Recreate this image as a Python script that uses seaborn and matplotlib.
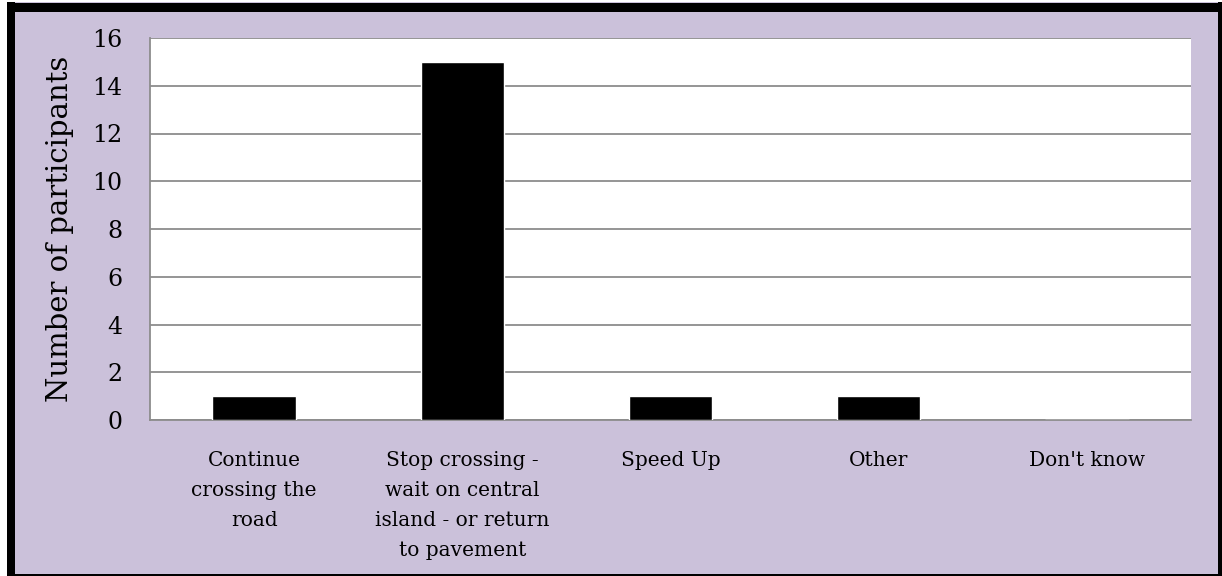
import matplotlib
matplotlib.use("Agg")
import matplotlib.pyplot as plt
import seaborn as sns
import pandas as pd
from matplotlib.lines import Line2D
from matplotlib.patches import Rectangle

categories = [
    "Continue\ncrossing the\nroad",
    "Stop crossing -\nwait on central\nisland - or return\nto pavement",
    "Speed Up",
    "Other",
    "Don't know",
]
counts = [1, 15, 1, 1, 0]
y_ticks = [0, 2, 4, 6, 8, 10, 12, 14, 16]

df = pd.DataFrame({"Response": categories, "Participants": counts})

sns.set_style("white")
plt.rcParams["font.family"] = ["DejaVu Serif"]
plt.rcParams["text.color"] = "black"
plt.rcParams["xtick.color"] = "black"
plt.rcParams["ytick.color"] = "black"
plt.rcParams["axes.labelcolor"] = "black"

bg = "#CBC1DA"
grid = "#8C8C8C"

W, H = 1222, 576
fig = plt.figure(figsize=(W / 100, H / 100), dpi=100, facecolor="white")
# lavender chart area
fig.add_artist(Rectangle((7 / W, 0), 1 - 7 / W, 1 - 2 / H, transform=fig.transFigure,
                         facecolor=bg, edgecolor="none", zorder=0))

ax = fig.add_axes([150 / W, 1 - 420 / H, (1191 - 150) / W, (420 - 38) / H])
ax.set_facecolor("white")

sns.barplot(data=df, x="Response", y="Participants", color="black",
            width=0.4, saturation=1, ax=ax, zorder=3)

ax.set_ylim(0, 16)
ax.set_xlim(-0.5, len(categories) - 0.5)
ax.set_yticks(y_ticks)
ax.yaxis.grid(True, color=grid, linewidth=1.3, zorder=0)
ax.set_axisbelow(True)

for s in ["top", "right"]:
    ax.spines[s].set_visible(False)
for s in ["left", "bottom"]:
    ax.spines[s].set_color(grid)
    ax.spines[s].set_linewidth(1.3)

# x ticks between categories, labels centred on bars
ax.set_xticks([i - 0.5 for i in range(len(categories) + 1)])
ax.set_xticklabels([])
ax.set_xticks(range(len(categories)), minor=True)
ax.set_xticklabels(categories, minor=True, fontsize=14.5, linespacing=1.75,
                   va="top")
ax.tick_params(axis="x", which="major", direction="out", length=7,
               color=grid, width=1.3)
ax.tick_params(axis="x", which="minor", length=0, pad=22)
ax.tick_params(axis="y", direction="out", length=9, color=grid, width=1.3,
               labelsize=17, pad=11)

ax.set_xlabel("")
ax.set_ylabel("Number of participants", fontsize=21, labelpad=13)

# outer frame: thick left/top, thin right/bottom
def px(x0, y0, x1, y1, lw):
    fig.add_artist(Line2D([x0 / W, x1 / W], [1 - y0 / H, 1 - y1 / H],
                          transform=fig.transFigure, color="black",
                          linewidth=lw * 0.72, solid_capstyle="butt"))

px(11, 2, 11, 576, 8)
px(7, 7, 1222, 7, 9)
px(1220, 2, 1220, 576, 4)
px(7, 574.5, 1222, 574.5, 3)

fig.savefig("out.png", dpi=100, facecolor="white")
